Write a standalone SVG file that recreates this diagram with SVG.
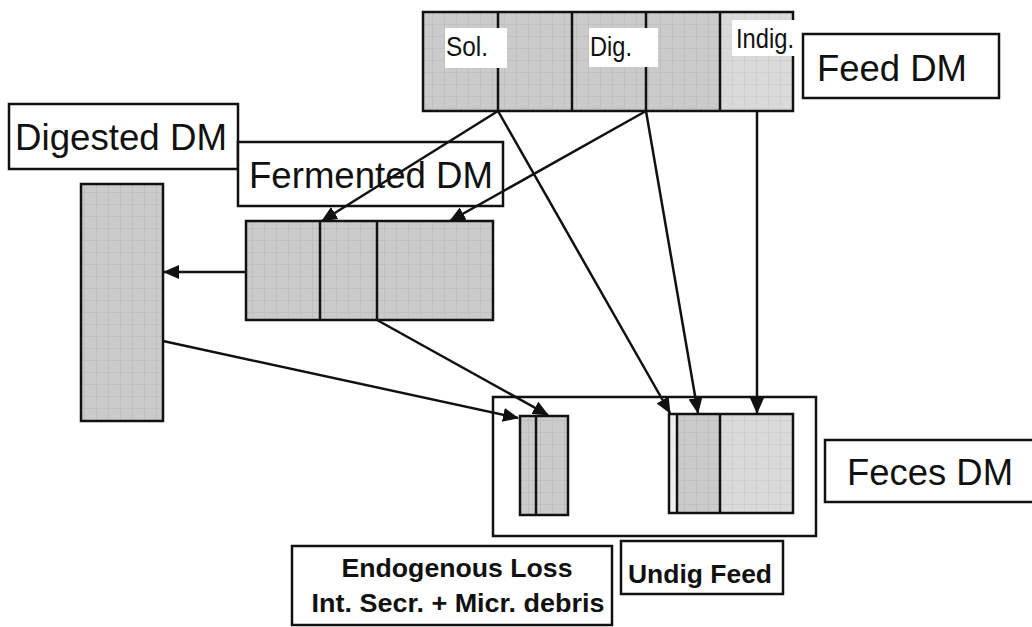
<svg xmlns="http://www.w3.org/2000/svg" width="1032" height="627" viewBox="0 0 1032 627">
<style>
.box{fill:none;stroke:#111;stroke-width:2.5}
.lbl{fill:#fff;stroke:#111;stroke-width:2.5}
.div{stroke:#111;stroke-width:2.5}
.t{font-family:"Liberation Sans",Arial,sans-serif;fill:#111}
.big{font-size:36px}
.small{font-size:28px}
.bold{font-size:25px;font-weight:bold}
.con{stroke:#111;stroke-width:2.5;fill:none;marker-end:url(#ah)}
</style>
<defs>
<pattern id="g1" width="12" height="12" patternUnits="userSpaceOnUse">
<rect width="12" height="12" fill="#cbcbcb"/>
<path d="M0 .5H12M.5 0V12" stroke="#c0c0c0" stroke-width="1"/>
</pattern>
<pattern id="g2" width="12" height="12" patternUnits="userSpaceOnUse">
<rect width="12" height="12" fill="#dadada"/>
<path d="M0 .5H12M.5 0V12" stroke="#d0d0d0" stroke-width="1"/>
</pattern>
<marker id="ah" viewBox="0 0 16 14" refX="15" refY="7" markerWidth="16" markerHeight="14" markerUnits="userSpaceOnUse" orient="auto">
<path d="M0 0L16 7L0 14Z" fill="#111"/>
</marker>
</defs>
<rect width="1032" height="627" fill="#fff"/>

<g id="feed">
<rect x="423" y="12" width="297" height="99" fill="url(#g1)"/>
<rect x="720" y="12" width="73" height="99" fill="url(#g2)"/>
<rect class="box" x="423" y="12" width="370" height="99"/>
<line class="div" x1="498" y1="12" x2="498" y2="111"/>
<line class="div" x1="572" y1="12" x2="572" y2="111"/>
<line class="div" x1="646" y1="12" x2="646" y2="111"/>
<line class="div" x1="720" y1="12" x2="720" y2="111"/>
<rect x="445" y="28" width="62" height="40" fill="#fff"/>
<rect x="589" y="28" width="69" height="39" fill="#fff"/>
<rect x="732" y="20" width="64" height="36" fill="#fff"/>
<text class="t small" x="446" y="56" textLength="42" lengthAdjust="spacingAndGlyphs">Sol.</text>
<text class="t small" x="590" y="56" textLength="42" lengthAdjust="spacingAndGlyphs">Dig.</text>
<text class="t small" x="736" y="48" textLength="58" lengthAdjust="spacingAndGlyphs">Indig.</text>
</g>

<g id="feed-label">
<rect class="lbl" x="803" y="34" width="196" height="64"/>
<text class="t big" x="817" y="81" textLength="150" lengthAdjust="spacingAndGlyphs">Feed DM</text>
</g>

<g id="digested-label">
<rect class="lbl" x="9" y="104" width="229" height="65"/>
<text class="t big" x="15" y="150" textLength="212" lengthAdjust="spacingAndGlyphs">Digested DM</text>
</g>

<g id="fermented-label">
<rect class="lbl" x="238" y="142" width="265" height="64"/>
<text class="t big" x="249" y="188" textLength="244" lengthAdjust="spacingAndGlyphs">Fermented DM</text>
</g>

<g id="digested">
<rect x="81" y="184" width="82" height="237" fill="url(#g1)"/>
<rect class="box" x="81" y="184" width="82" height="237"/>
</g>

<g id="fermented">
<rect x="246" y="221" width="247" height="99" fill="url(#g1)"/>
<rect class="box" x="246" y="221" width="247" height="99"/>
<line class="div" x1="320" y1="221" x2="320" y2="320"/>
<line class="div" x1="377" y1="221" x2="377" y2="320"/>
</g>

<g id="feces">
<rect class="box" x="493" y="397" width="323" height="139" stroke-width="3"/>
<rect x="520" y="416" width="48" height="99" fill="url(#g1)"/>
<rect class="box" x="520" y="416" width="48" height="99"/>
<line class="div" x1="536" y1="416" x2="536" y2="515"/>
<rect x="677" y="414" width="43" height="99" fill="url(#g1)"/>
<rect x="720" y="414" width="73" height="99" fill="url(#g2)"/>
<rect x="669" y="414" width="8" height="99" fill="#efefef"/>
<rect class="box" x="669" y="414" width="124" height="99"/>
<line class="div" x1="677" y1="414" x2="677" y2="513"/>
<line class="div" x1="720" y1="414" x2="720" y2="513"/>
</g>

<g id="feces-label">
<rect class="lbl" x="825" y="440" width="210" height="62"/>
<text class="t big" x="847" y="485" textLength="166" lengthAdjust="spacingAndGlyphs">Feces DM</text>
</g>

<g id="endogenous-label">
<rect class="lbl" x="292" y="546" width="320" height="79"/>
<text class="t bold" x="457" y="577" text-anchor="middle" textLength="231" lengthAdjust="spacingAndGlyphs">Endogenous Loss</text>
<text class="t bold" x="458" y="612" text-anchor="middle" textLength="293" lengthAdjust="spacingAndGlyphs">Int. Secr. + Micr. debris</text>
</g>

<g id="undig-label">
<rect class="lbl" x="621" y="541" width="162" height="53"/>
<text class="t bold" x="628" y="583" textLength="144" lengthAdjust="spacingAndGlyphs">Undig Feed</text>
</g>

<g id="connectors">
<line class="con" x1="498" y1="111" x2="322" y2="221"/>
<line class="con" x1="498" y1="111" x2="670" y2="413"/>
<line class="con" x1="646" y1="111" x2="450" y2="221"/>
<line class="con" x1="646" y1="111" x2="698" y2="413"/>
<line class="con" x1="757" y1="111" x2="757" y2="413"/>
<line class="con" x1="246" y1="272" x2="164" y2="272"/>
<line class="con" x1="163" y1="341" x2="518" y2="418"/>
<line class="con" x1="377" y1="320" x2="548" y2="415"/>
</g>
</svg>
